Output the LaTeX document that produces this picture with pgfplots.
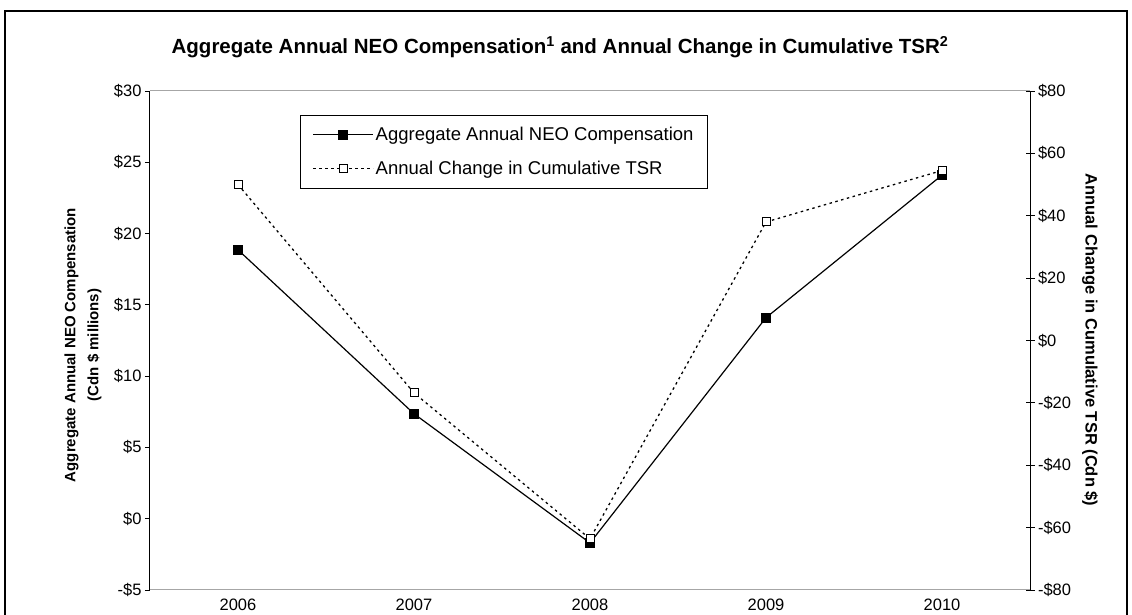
\documentclass[border=0pt]{standalone}
\usepackage{pgfplots}
\pgfplotsset{compat=1.18}
\usepackage{fontspec}
\setmainfont{Liberation Sans}

\begin{document}
\begin{tikzpicture}
\path[use as bounding box] (-150pt,-25pt) rectangle (982pt,590pt);
\draw[line width=1.2pt] (-145pt,-25pt) -- (-145pt,579pt) -- (977pt,579pt) -- (977pt,-25pt);
\begin{axis}[
  at={(0pt,0pt)}, anchor=south west,
  scale only axis, width=880pt, height=499pt,
  xmin=-0.5, xmax=4.5, ymin=-5, ymax=30,
  xtick={0,1,2,3,4}, xticklabels={2006,2007,2008,2009,2010},
  ytick={-5,0,5,10,15,20,25,30},
  yticklabels={-\$5,\$0,\$5,\$10,\$15,\$20,\$25,\$30},
  separate axis lines,
  x axis line style={draw=gray!70, line width=1pt},
  y axis line style={draw=black, line width=1pt},
  ytick pos=left,
  xtick style={draw=none},
  ytick style={black, line width=0.8pt},
  tick align=outside,
  major tick length=5pt,
  ticklabel style={font=\fontsize{16.5}{19}\selectfont},
  clip=false,
]
\addplot[black, line width=1.2pt, mark=square*, mark size=4.5pt, mark options={solid, fill=black}]
  coordinates {(0,18.86) (1,7.36) (2,-1.7) (3,14.1) (4,24.1)};
\end{axis}
\begin{axis}[
  at={(0pt,0pt)}, anchor=south west,
  scale only axis, width=880pt, height=499pt,
  xmin=-0.5, xmax=4.5, ymin=-80, ymax=80,
  axis x line=none, axis y line*=right,
  ytick={-80,-60,-40,-20,0,20,40,60,80},
  yticklabels={-\$80,-\$60,-\$40,-\$20,\$0,\$20,\$40,\$60,\$80},
  y axis line style={draw=black, line width=1pt},
  ytick style={black, line width=0.8pt},
  tick align=center,
  major tick length=9pt,
  ticklabel style={font=\fontsize{16.5}{19}\selectfont},
  clip=false,
  legend style={at={(0.1705,0.952)}, anchor=north west, draw=black, line width=0.8pt,
    font=\fontsize{18.5}{22}\selectfont, inner xsep=12pt, inner ysep=10pt, row sep=15pt},
  legend cell align=left,
  legend image code/.code={\draw[mark repeat=2,mark phase=2,#1] plot coordinates {(0pt,0pt) (30pt,0pt) (60pt,0pt)};},
]
\addlegendimage{black, line width=1.2pt, mark=square*, mark size=4.5pt, mark options={solid, fill=black}}
\addlegendentry{Aggregate Annual NEO Compensation}
\addplot[black, line width=1.3pt, dash pattern=on 2.5pt off 3.5pt, mark=square*, mark size=4pt, mark options={solid, fill=white, line width=1pt}]
  coordinates {(0,50.0) (1,-16.8) (2,-63.6) (3,38.0) (4,54.5)};
\addlegendentry{Annual Change in Cumulative TSR}
\end{axis}
\node[font=\bfseries\fontsize{20.5}{25}\selectfont] at (410pt,543pt) {Aggregate Annual NEO Compensation\textsuperscript{1} and Annual Change in Cumulative TSR\textsuperscript{2}};
\node[rotate=90, align=center, font=\bfseries\fontsize{15}{23}\selectfont] at (-67pt,245pt) {Aggregate Annual NEO Compensation\\(Cdn \$ millions)};
\node[rotate=-90, font=\bfseries\fontsize{16.5}{18}\selectfont] at (940pt,250pt) {Annual Change in Cumulative TSR (Cdn \$)};
\end{tikzpicture}
\end{document}
